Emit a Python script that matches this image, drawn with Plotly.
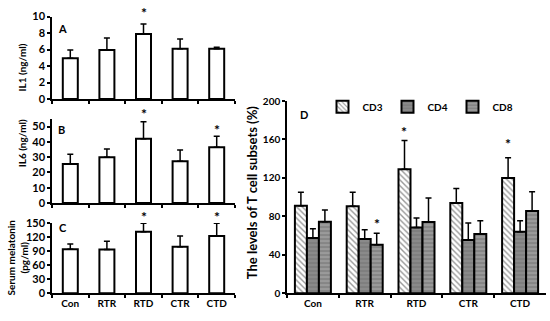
import plotly.graph_objects as go

categories = ["Con", "RTR", "RTD", "CTR", "CTD"]

# Panel A: IL1 (ng/ml)
il1_mean = [4.95, 5.95, 7.9, 6.1, 6.1]
il1_err = [1.0, 1.45, 1.2, 1.2, 0.2]
# Panel B: IL6 (ng/ml)
il6_mean = [25.6, 30.0, 42.0, 27.3, 36.5]
il6_err = [6.3, 5.3, 11.1, 7.4, 7.2]
# Panel C: Serum melatonin (pg/ml)
mel_mean = [94, 93, 131, 99, 122]
mel_err = [11, 18, 18, 23, 27]
# Panel D: T cell subsets (%)
cd3_mean = [91, 90.5, 129, 94, 120]
cd3_err = [14, 14.5, 30, 15, 21]
cd4_mean = [57.5, 56.3, 68.3, 55.5, 64]
cd4_err = [9.5, 9.7, 10, 17.5, 11.5]
cd8_mean = [74.5, 50.5, 74, 61.5, 85.5]
cd8_err = [12, 12, 25, 14, 20]

# significance stars (category, y value where the star sits)
stars_A = [("RTD", 10.5)]
stars_B = [("RTD", 58.5), ("CTD", 48.0)]
stars_C = [("RTD", 164.0), ("CTD", 164.0)]
stars_D = [("RTD", "CD3", 168.3), ("CTD", "CD3", 155.5), ("RTR", "CD8", 72.3)]

FONT = "Lato"
BLACK = "black"
fig = go.Figure()

def simple_bar(xa, ya, vals, errs):
    fig.add_trace(go.Bar(
        x=categories, y=vals, xaxis=xa, yaxis=ya, width=0.41,
        marker=dict(color="white", line=dict(color=BLACK, width=2)),
        error_y=dict(type="data", array=errs, arrayminus=[0]*len(errs),
                     color=BLACK, thickness=1.5, width=3),
        showlegend=False, hoverinfo="skip"))

simple_bar("x", "y", il1_mean, il1_err)
simple_bar("x2", "y2", il6_mean, il6_err)
simple_bar("x3", "y3", mel_mean, mel_err)

BW = 0.2317
groups = [
    ("CD3", cd3_mean, cd3_err, "white", "\\", "#333333", -1.5*BW),
    ("CD4", cd4_mean, cd4_err, "#8a8a8a", "-", "#6a6a6a", -0.5*BW),
    ("CD8", cd8_mean, cd8_err, "#9a9a9a", "-", "#606060", 0.5*BW),
]
offsets = {}
for name, vals, errs, fill, shape, fg, off in groups:
    offsets[name] = off + BW/2
    fig.add_trace(go.Bar(
        x=categories, y=vals, xaxis="x4", yaxis="y4", name=name,
        width=BW, offset=off, hoverinfo="skip",
        marker=dict(color=fill, line=dict(color=BLACK, width=2),
                    pattern=dict(shape=shape, fgcolor=fg, bgcolor=fill,
                                 size=4, solidity=0.35)),
        error_y=dict(type="data", array=errs, arrayminus=[0]*len(errs),
                     color=BLACK, thickness=1.5, width=3)))

tickfontS = dict(family=FONT, size=11, color=BLACK, weight="bold")
tickfont = dict(family=FONT, size=10, color=BLACK, weight="bold")
xbase = dict(type="category", tickson="boundaries", ticks="outside", ticklen=3,
             tickwidth=1.5, tickcolor=BLACK, showline=True, linecolor=BLACK,
             linewidth=1.5, showgrid=False, tickfont=tickfont, zeroline=False,
             tickangle=0, categoryorder="array", categoryarray=categories)
ybase = dict(ticks="outside", ticklen=3, tickwidth=1.5, tickcolor=BLACK,
             showline=True, linecolor=BLACK, linewidth=1.5, showgrid=False,
             tickfont=tickfontS, zeroline=False)

rangeA, rangeB, rangeC, rangeD = [0, 10], [0, 55], [0, 150], [0, 200]
dx = [52/550, 235/550]
fig.update_layout(
    width=550, height=321, margin=dict(l=0, r=0, t=0, b=0),
    paper_bgcolor="white", plot_bgcolor="white",
    barmode="overlay",
    xaxis=dict(xbase, domain=dx, anchor="y", showticklabels=False),
    yaxis=dict(ybase, domain=[1-96/321, 1-10/321], anchor="x", range=rangeA, dtick=2),
    xaxis2=dict(xbase, domain=dx, anchor="y2", showticklabels=False),
    yaxis2=dict(ybase, domain=[1-204.3/321, 1-116.7/321], anchor="x2", range=rangeB,
                tickvals=[0, 10, 20, 30, 40, 50]),
    xaxis3=dict(xbase, domain=dx, anchor="y3"),
    yaxis3=dict(ybase, domain=[1-298.3/321, 1-225/321], anchor="x3", range=rangeC, dtick=30),
    xaxis4=dict(xbase, domain=[287/550, 546/550], anchor="y4"),
    yaxis4=dict(ybase, domain=[1-298.3/321, 1-98/321], anchor="x4", range=rangeD, dtick=40,
                tickfont=tickfont),
    legend=dict(orientation="h", x=420/550, y=1-104/321, xanchor="center", yanchor="middle",
                font=dict(family=FONT, size=10, color=BLACK, weight="bold"),
                itemwidth=30, entrywidth=20, bgcolor="rgba(0,0,0,0)",
                traceorder="normal"),
)

starfont = dict(family=FONT, size=14, color=BLACK, weight="bold")
for stars, xa, ya, rng in [(stars_A, "x", "y", rangeA), (stars_B, "x2", "y2", rangeB),
                           (stars_C, "x3", "y3", rangeC)]:
    for cat, v in stars:
        fig.add_annotation(x=cat, y=v/rng[1], xref=xa, yref=f"{ya} domain", text="*",
                           showarrow=False, xanchor="center", yanchor="middle", font=starfont)

BWPX = 259/5  # px per category in panel D
for cat, grp, v in stars_D:
    fig.add_annotation(x=cat, y=v, xref="x4", yref="y4", text="*", showarrow=False,
                       xanchor="center", yanchor="middle",
                       xshift=offsets[grp]*BWPX, font=starfont)

titlefont = dict(family=FONT, size=10, color=BLACK, weight="bold")
for txt, xp, yp, fs in [("IL1 (ng/ml)", 22, 63, 10), ("IL6 (ng/ml)", 22, 142, 10),
                        ("Serum melatonin<br>(pg/ml)", 17, 261, 10),
                        ("The levels of T cell subsets (%)", 252, 193, 13)]:
    fig.add_annotation(x=xp/550, y=1-yp/321, xref="paper", yref="paper", text=txt,
                       textangle=-90, showarrow=False, xanchor="center", yanchor="middle",
                       font=dict(titlefont, size=fs))

for lbl, xp, yp in [("A", 62, 22), ("B", 61, 128), ("C", 63, 230), ("D", 304, 112)]:
    fig.add_annotation(x=xp/550, y=1-yp/321, xref="paper", yref="paper", text=lbl,
                       showarrow=False, xanchor="center", yanchor="middle",
                       font=dict(family=FONT, size=11, color=BLACK, weight="bold"))

fig.write_html("out.html", config={"displayModeBar": False},
               post_script="document.body.style.margin='0';document.body.style.overflow='hidden';")
